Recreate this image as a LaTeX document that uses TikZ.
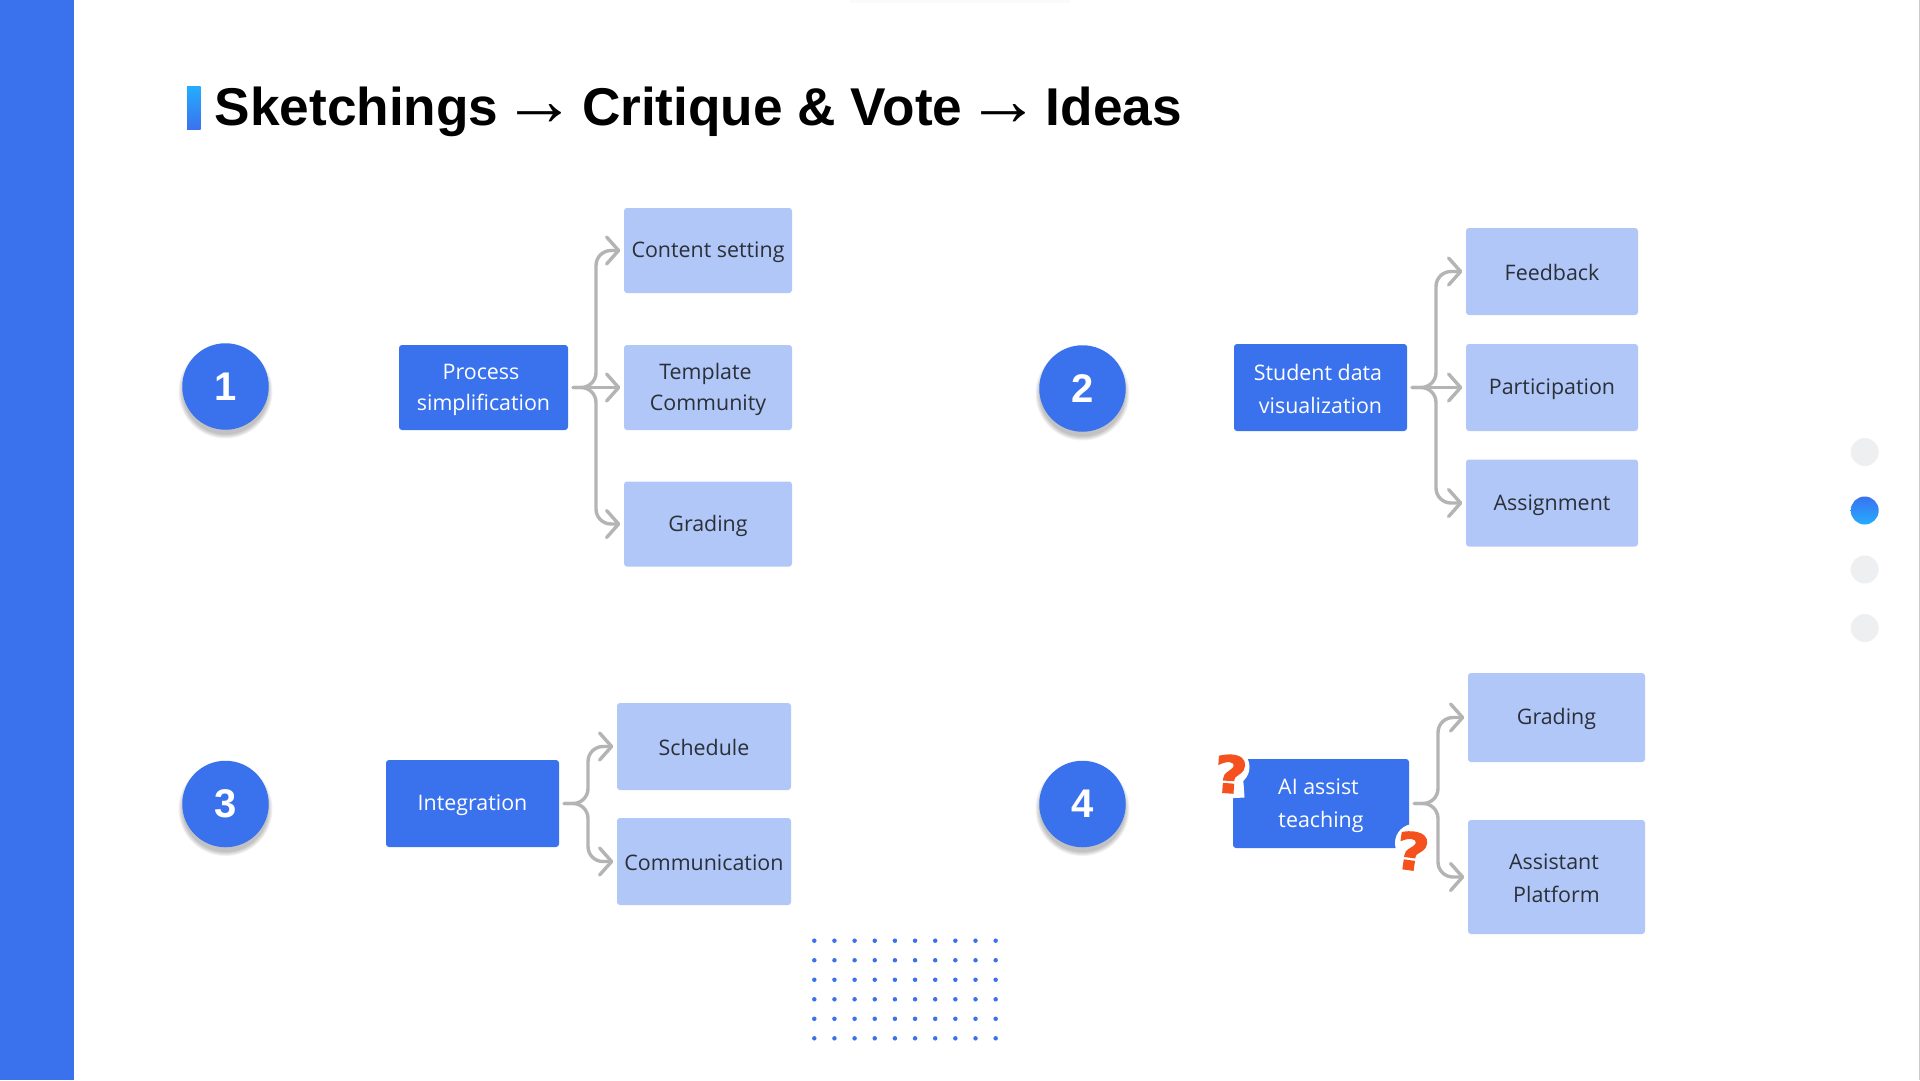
\documentclass[tikz,border=0pt]{standalone}
\usepackage{fontspec}
\setmainfont{Open Sans}
\newfontfamily\titlefont{Liberation Sans}
\newfontfamily\qfont[BoldFeatures={FakeBold=2.5,FakeStretch=1.12}]{DejaVu Sans}
\usetikzlibrary{arrows.meta,calc}
\definecolor{mainblue}{HTML}{3A72EE}
\definecolor{lightblue}{HTML}{B0C7F7}
\definecolor{skyblue}{HTML}{24ADFF}
\definecolor{conngray}{HTML}{B4B4B4}
\definecolor{darktext}{HTML}{2B2F38}
\definecolor{navgray}{HTML}{EEEFF1}
\definecolor{qred}{HTML}{F4511E}
\newcommand{\topstrut}{\rule{0pt}{20pt}}
\newcommand{\botstrut}{\rule[-2pt]{0pt}{2pt}}
\newcommand{\oneline}[1]{\topstrut\botstrut #1}
\newcommand{\twoline}[3]{\topstrut #2\\[#1]\botstrut #3}
\tikzset{
  basebox/.style={rounded corners=3pt,inner sep=0pt,align=center,font=\fontsize{21.4}{31}\selectfont},
  mainbox/.style={basebox,fill=mainblue,text=white},
  subbox/.style={basebox,fill=lightblue,text=darktext},
  numdot/.style={circle,fill=mainblue,text=white,minimum size=86.5pt,inner sep=0pt,font=\titlefont\bfseries\fontsize{40}{40}\selectfont},
  navdot/.style={circle,fill=navgray,minimum size=28pt,inner sep=0pt},
  griddot/.style={circle,fill=mainblue,minimum size=4.5pt,inner sep=0pt},
  conn/.style={draw=conngray,line width=3.4pt,line cap=round,rounded corners=15pt,
    -{Straight Barb[length=12pt,width=27pt,round]},shorten <=5pt,shorten >=3.5pt},
  qmark/.style={text=qred,inner sep=0pt,font=\qfont\bfseries\fontsize{51}{51}\selectfont},
  sticker/.style={fill=white,draw=white,line width=1pt,line join=round},
}
\newcommand{\softshadow}[2]{%
  \foreach \rr in {47,46,45,44,43}{
    \fill[black,opacity=0.05] (#1,#2+5) circle[radius=\rr pt];
  }}
\newcommand{\bigarrow}{{\mdseries\fontsize{74}{52}\selectfont→}}
\begin{document}
\begin{tikzpicture}[x=1pt,y=-1pt]
\useasboundingbox (0,0) rectangle (1920,1080);
\fill[white] (0,0) rectangle (1920,1080);
% page furniture
\fill[mainblue] (0,0) rectangle (74,1080);
\fill[navgray!30] (850,0) rectangle (1070,2.5);
\fill[conngray!70] (1918.5,0) rectangle (1920,1080);
% title
\shade[top color=skyblue,middle color=skyblue!60!mainblue,bottom color=mainblue] (187,86) rectangle (200.5,129);
\node[anchor=base west,inner sep=0pt,font=\titlefont\bfseries\fontsize{53.2}{54}\selectfont] (title) at (214.5,125.5)
  {Sketchings\kern4pt\bigarrow\kern5.5pt Critique \& Vote\kern4pt\bigarrow\kern5.5pt Ideas};
% circles
\softshadow{225.5}{386.5}
\softshadow{1082.5}{388.5}
\softshadow{225.5}{804}
\softshadow{1082.5}{804}
\node[numdot] (n1) at (225.5,386.5) {1};
\node[numdot] (n2) at (1082.5,388.5) {2};
\node[numdot] (n3) at (225.5,804) {3};
\node[numdot] (n4) at (1082.5,804) {4};
% group 1
\node[mainbox,minimum width=169pt,minimum height=85pt] (proc) at (483.5,387.5) {\twoline{0pt}{Process\kern5pt}{simplification}};
\node[subbox,minimum width=168pt,minimum height=85pt] (content) at (708,250.5) {\oneline{Content setting}};
\node[subbox,minimum width=168pt,minimum height=85pt] (template) at (708,387.5) {\twoline{0pt}{Template\kern5pt}{Community}};
\node[subbox,minimum width=168pt,minimum height=85pt] (gradinga) at (708,524) {\oneline{Grading}};
\coordinate (t1) at (596,387.5);
\draw[conn] (proc.east) -- (t1) -- (t1 |- content.west) -- (content.west);
\draw[conn] (proc.east) -- (template.west);
\draw[conn] (proc.east) -- (t1) -- (t1 |- gradinga.west) -- (gradinga.west);
% group 2
\node[mainbox,minimum width=173pt,minimum height=87pt] (student) at (1320.5,387.5) {\twoline{2pt}{Student data\kern5pt}{visualization}};
\node[subbox,minimum width=172pt,minimum height=87pt] (feedback) at (1552,271.5) {\oneline{Feedback}};
\node[subbox,minimum width=172pt,minimum height=87pt] (particip) at (1552,387.5) {\oneline{Participation}};
\node[subbox,minimum width=172pt,minimum height=87pt] (assign) at (1552,503) {\oneline{Assignment}};
\coordinate (t2) at (1436,387.5);
\draw[conn] (student.east) -- (t2) -- (t2 |- feedback.west) -- (feedback.west);
\draw[conn] (student.east) -- (particip.west);
\draw[conn] (student.east) -- (t2) -- (t2 |- assign.west) -- (assign.west);
% group 3
\node[mainbox,minimum width=173pt,minimum height=87pt] (integ) at (472.5,803.5) {\oneline{Integration}};
\node[subbox,minimum width=174pt,minimum height=87pt] (sched) at (704,746.5) {\oneline{Schedule}};
\node[subbox,minimum width=174pt,minimum height=87pt] (comm) at (704,861.5) {\oneline{Communication}};
\coordinate (t3) at (588,803.5);
\draw[conn] (integ.east) -- (t3) -- (t3 |- sched.west) -- (sched.west);
\draw[conn] (integ.east) -- (t3) -- (t3 |- comm.west) -- (comm.west);
% group 4
\node[mainbox,minimum width=176pt,minimum height=89pt] (ai) at (1321,803.5) {\twoline{2pt}{AI assist\kern5pt}{teaching}};
\node[subbox,minimum width=177pt,minimum height=89pt] (gradingb) at (1556.5,717.5) {\oneline{Grading}};
\node[subbox,minimum width=177pt,minimum height=114pt] (assist) at (1556.5,877) {\twoline{2pt}{Assistant\kern5pt}{Platform}};
\coordinate (t4) at (1438,803.5);
\draw[conn] (ai.east) -- (t4) -- (t4 |- gradingb.west) -- (gradingb.west);
\draw[conn] (ai.east) -- (t4) -- (t4 |- assist.west) -- (assist.west);
% question marks
\fill[sticker] (1231,767) circle[radius=18pt];
\fill[sticker] (1221,770) -- (1242,770) -- (1244,797) -- (1225,798) -- cycle;
\fill[sticker] (1414,843) circle[radius=18.5pt];
\fill[sticker] (1400,850) -- (1426,850) -- (1420,874) -- (1399,873) -- cycle;
\node[qmark,rotate=-4] (q1) at (1231,774) {?};
\node[qmark,rotate=-8] (q2) at (1412.5,851) {?};
% dot grid
\foreach \cx in {0,...,9}{
  \foreach \cy in {0,...,5}{
    \node[griddot] (g\cx\cy) at (814.3+20.15*\cx,940.7+19.52*\cy) {};
  }
}
% nav dots
\node[navdot] (nav1) at (1864.7,452) {};
\shade[top color=mainblue,middle color=skyblue!85!mainblue,bottom color=skyblue] (1864.7,510.5) circle[radius=14pt];
\node[navdot] (nav3) at (1864.7,569.5) {};
\node[navdot] (nav4) at (1864.7,628) {};
\end{tikzpicture}
\end{document}
